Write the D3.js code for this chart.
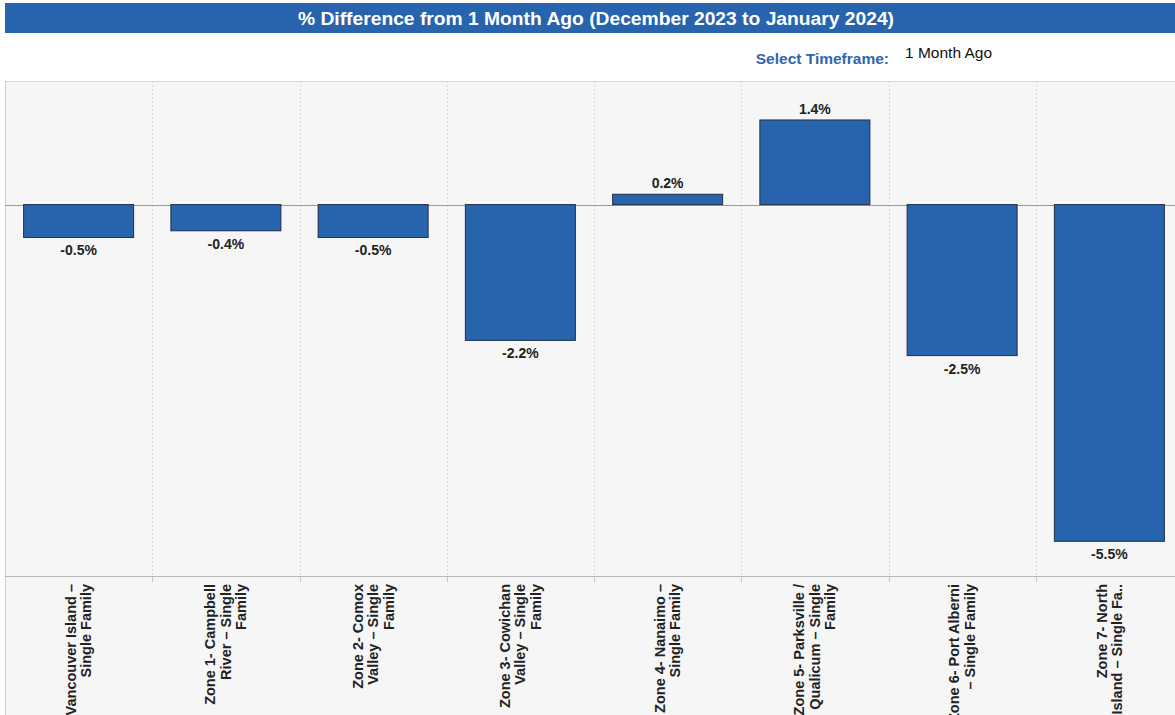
<!DOCTYPE html>
<html><head><meta charset="utf-8">
<script src="https://cdn.jsdelivr.net/npm/d3@7"></script>
<style>body{margin:0;background:#fff;}svg{display:block;font-family:"Liberation Sans",Arial,sans-serif;}</style>
</head><body><svg id="c" width="1175" height="715"></svg>
<script>
const categories = [
  ["Vancouver Island –","Single Family"],
  ["Zone 1- Campbell","River – Single","Family"],
  ["Zone 2- Comox","Valley – Single","Family"],
  ["Zone 3- Cowichan","Valley – Single","Family"],
  ["Zone 4- Nanaimo –","Single Family"],
  ["Zone 5- Parksville /","Qualicum – Single","Family"],
  ["Zone 6- Port Alberni","– Single Family"],
  ["Zone 7- North","Island – Single Fa.."]
];
const values = [-0.54, -0.43, -0.54, -2.23, 0.17, 1.39, -2.48, -5.53];
const title = "% Difference from 1 Month Ago (December 2023 to January 2024)";

const svg = d3.select("#c");
const L = 5, R = 1183, T = 81, B = 576;
const blue = "#2864ad";

// title bar
svg.append("rect").attr("x",5).attr("y",3).attr("width",1170).attr("height",30).attr("fill",blue);
svg.append("text").attr("x",298).attr("y",25).attr("fill","#fff")
  .attr("font-size",18).attr("font-weight","bold")
  .attr("textLength",596).attr("lengthAdjust","spacingAndGlyphs").text(title);
svg.append("text").attr("x",889).attr("y",64).attr("text-anchor","end").attr("fill","#2f66b0")
  .attr("font-size",15.5).attr("font-weight","bold").text("Select Timeframe:");
svg.append("text").attr("x",905).attr("y",58).attr("fill","#111").attr("font-size",15.5).text("1 Month Ago");

// plot bg
svg.append("rect").attr("x",L).attr("y",T).attr("width",1175-L).attr("height",715-T).attr("fill","#f6f6f6");
svg.append("line").attr("x1",L).attr("x2",1175).attr("y1",T+0.5).attr("y2",T+0.5).attr("stroke","#d8d8d8");
svg.append("line").attr("x1",L+0.5).attr("x2",L+0.5).attr("y1",T).attr("y2",715).attr("stroke","#d0d0d0");

const x = d3.scaleBand().domain(d3.range(categories.length)).range([L,R]).paddingInner(0.253).paddingOuter(0.1265);
const step = x.step();
const y = d3.scaleLinear().domain([-6.1, 2.03]).range([B, T]);

// vertical gridlines
const g = svg.append("g");
d3.range(1, categories.length).forEach(i => {
  const gx = Math.round(L + i*step) + 0.5;
  g.append("line").attr("x1",gx).attr("x2",gx).attr("y1",T).attr("y2",B).attr("stroke","#d8d8d8").attr("stroke-dasharray","2,2");
  g.append("line").attr("x1",gx).attr("x2",gx).attr("y1",B).attr("y2",B+6).attr("stroke","#c8c8c8");
});

// zero line
svg.append("line").attr("x1",L).attr("x2",1175).attr("y1",Math.round(y(0))+0.5).attr("y2",Math.round(y(0))+0.5).attr("stroke","#9a9a9a");

// bars
svg.append("g").selectAll("rect").data(values).join("rect")
  .attr("x",(d,i)=>x(i)).attr("width",x.bandwidth())
  .attr("y",d=>y(Math.max(0,d))).attr("height",d=>Math.abs(y(d)-y(0)))
  .attr("fill",blue).attr("stroke","#1c2f4a").attr("stroke-width",1);

// labels
const fmt = d => (d<0?"-":"") + Math.abs(d).toFixed(1) + "%";
svg.append("g").selectAll("text").data(values).join("text")
  .attr("x",(d,i)=>x(i)+x.bandwidth()/2)
  .attr("y",d=> d<0 ? y(d)+18 : y(d)-6)
  .attr("text-anchor","middle").attr("font-size",14).attr("font-weight","bold").attr("fill","#222")
  .text(fmt);

// bottom axis
svg.append("line").attr("x1",L).attr("x2",1175).attr("y1",B+0.5).attr("y2",B+0.5).attr("stroke","#b8b8b8");

// category labels (rotated)
categories.forEach((lines,i)=>{
  const cx = L + (i+0.5)*step;
  const n = lines.length, lh = 15.5;
  const t = svg.append("text").attr("font-size",14.5).attr("font-weight","bold").attr("fill","#222")
    .attr("text-anchor","end")
    .attr("transform",`translate(${cx},${B+8}) rotate(-90)`);
  lines.forEach((s,j)=>{
    t.append("tspan").attr("x",0).attr("y",(j-(n-1)/2)*lh+5).text(s);
  });
});
</script></body></html>
